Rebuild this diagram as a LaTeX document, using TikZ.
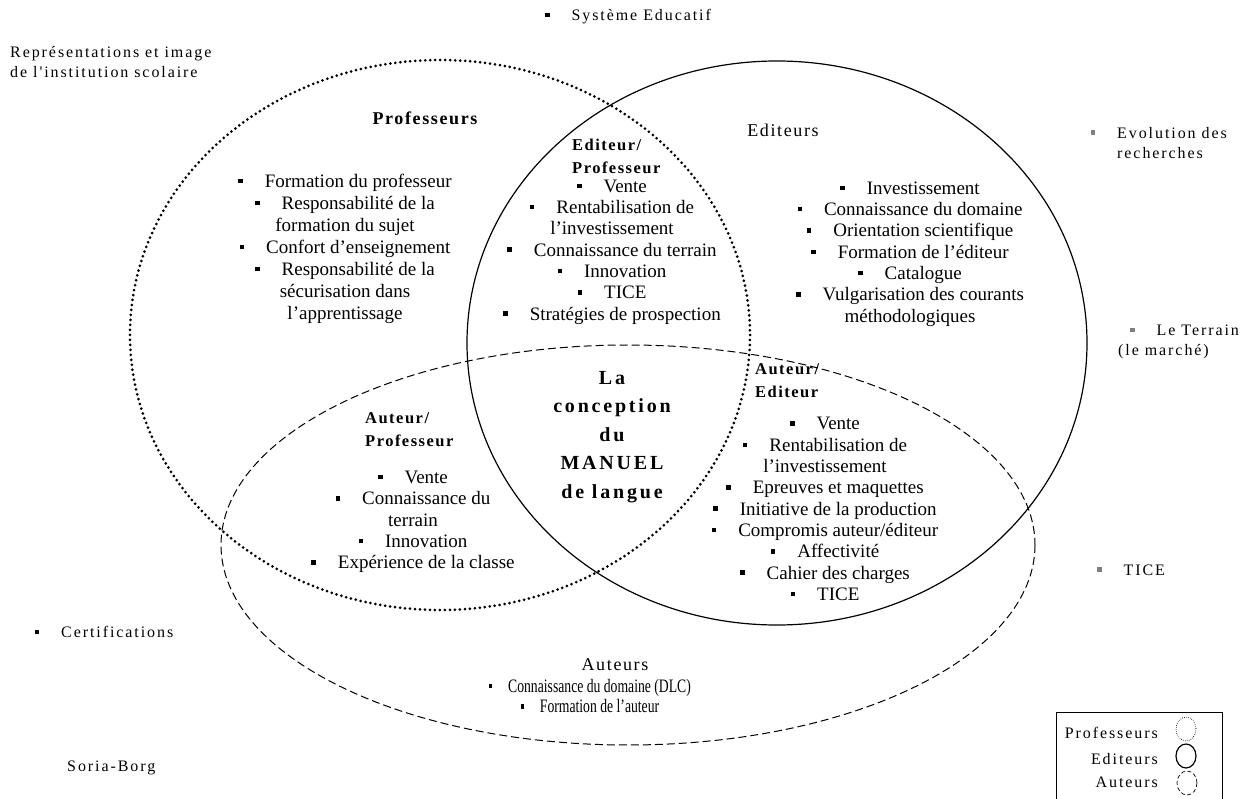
\documentclass[tikz,border=0pt]{standalone}
\usepackage{fontspec}
\setmainfont{Liberation Serif}
\newfontfamily\spaced[LetterSpace=12]{Liberation Serif}
\newfontfamily\headfont[LetterSpace=9]{Liberation Serif}
\newfontfamily\wide[LetterSpace=14]{Liberation Serif}
\usepackage{graphicx}
\usepackage{tikz}
\usetikzlibrary{positioning}

\newcommand{\blt}{\rule[0.22em]{4.5pt}{4.5pt}\hspace{22pt}}
\newcommand{\gblt}{\textcolor{gray}{\rule[0.22em]{4.5pt}{4.5pt}}\hspace{22pt}}
\newcommand{\narrow}[1]{\scalebox{0.72}[1]{#1}}

\begin{document}
\begin{tikzpicture}[
    x=1pt, y=-1pt,
    item/.style={align=center, inner sep=0pt, font=\fontsize{19}{21.3}\selectfont},
    head/.style={align=left, inner sep=0pt, anchor=west, font=\fontsize{16.5}{23}\selectfont\headfont\bfseries},
    title/.style={inner sep=0pt, font=\fontsize{18}{20}\selectfont\headfont},
    outside/.style={align=left, inner sep=0pt, font=\fontsize{16}{20}\selectfont\spaced},
    dotline/.style={line width=3pt, line cap=round, dash pattern=on 0pt off 5pt},
    solidline/.style={line width=1.2pt},
    dashline/.style={line width=1pt, dash pattern=on 8pt off 4pt}
]
\useasboundingbox (0,0) rectangle (1251,799);

% === THE THREE SETS ===
\draw[dotline] (440,335) ellipse [x radius=310, y radius=275];
\draw[solidline] (777,343) ellipse [x radius=310, y radius=282];
\draw[dashline] (628,545) ellipse [x radius=407, y radius=200];

% === PROFESSEURS ===
\node[title, font=\fontsize{18}{20}\selectfont\headfont\bfseries] (prof) at (425,118) {Professeurs};
\node[item, font=\fontsize{19}{22}\selectfont] (proflist) at (345,249) {\blt Formation du professeur\\\blt Responsabilité de la\\formation du sujet\\\blt Confort d'enseignement\\\blt Responsabilité de la\\sécurisation dans\\l'apprentissage};

% === EDITEURS ===
\node[title] (edit) at (783,130) {Editeurs};
\node[item] (editlist) at (910,254) {\blt Investissement\\\blt Connaissance du domaine\\\blt Orientation scientifique\\\blt Formation de l'éditeur\\\blt Catalogue\\\blt Vulgarisation des courants\\méthodologiques};

% === AUTEURS ===
\node[title] (aut) at (615,665) {Auteurs};
\node[item, font=\fontsize{19}{20.5}\selectfont] (autlist) at (590,696) {\narrow{\blt Connaissance du domaine (DLC)}\\\narrow{\blt Formation de l'auteur}};

% === INTERSECTIONS ===
\node[head] (editprof) at (572,156) {Editeur/\\Professeur};
\node[item] (editproflist) at (612,252) {\blt Vente\\\blt Rentabilisation de\\l'investissement\\\blt Connaissance du terrain\\\blt Innovation\\\blt TICE\\\blt Stratégies de prospection};

\node[head] (autprof) at (365,430) {Auteur/\\Professeur};
\node[item] (autproflist) at (413,522) {\blt Vente\\\blt Connaissance du\\terrain\\\blt Innovation\\\blt Expérience de la classe};

\node[head] (autedit) at (755,381) {Auteur/\\Editeur};
\node[item] (autedilist) at (825,509) {\blt Vente\\\blt Rentabilisation de\\l'investissement\\\blt Epreuves et maquettes\\\blt Initiative de la production\\\blt Compromis auteur/éditeur\\\blt Affectivité\\\blt Cahier des charges\\\blt TICE};

% centre of the three sets
\node[align=center, inner sep=0pt, font=\fontsize{20}{28.5}\selectfont\wide\bfseries] (centre) at (612,437) {La\\conception\\du\\MANUEL\\de langue};

% === OUTSIDE FACTORS ===
\node[outside] (sysedu) at (628,17) {\blt Système Educatif};
\node[outside, anchor=west] (repr) at (10,62) {Représentations et image\\de l'institution scolaire};
\node[outside, anchor=west] (evol) at (1117,143) {\llap{\gblt}Evolution des\\recherches};
\node[outside, anchor=west] (terrain) at (1118,342) {\hspace{12pt}\gblt Le Terrain\\(le marché)};
\node[outside] (tice) at (1131,570) {\gblt TICE};
\node[outside] (certif) at (104,632) {\blt Certifications};
\node[outside, anchor=west] (sign) at (67,768) {Soria-Borg};

% === LEGEND ===
\draw[line width=0.6pt] (1056,712) rectangle (1222,812);
\node[outside, anchor=east] (legprof) at (1158,733) {Professeurs};
\node[outside, anchor=east] (legedit) at (1158,759) {Editeurs};
\node[outside, anchor=east] (legaut) at (1158,782) {Auteurs};
\draw[line width=0.9pt, line cap=round, dash pattern=on 0pt off 2pt] (1186,729) ellipse [x radius=10, y radius=12];
\draw[solidline] (1186,756) ellipse [x radius=10, y radius=12];
\draw[line width=0.7pt, dash pattern=on 4pt off 2.5pt] (1187,783) ellipse [x radius=10, y radius=12];

\end{tikzpicture}
\end{document}
